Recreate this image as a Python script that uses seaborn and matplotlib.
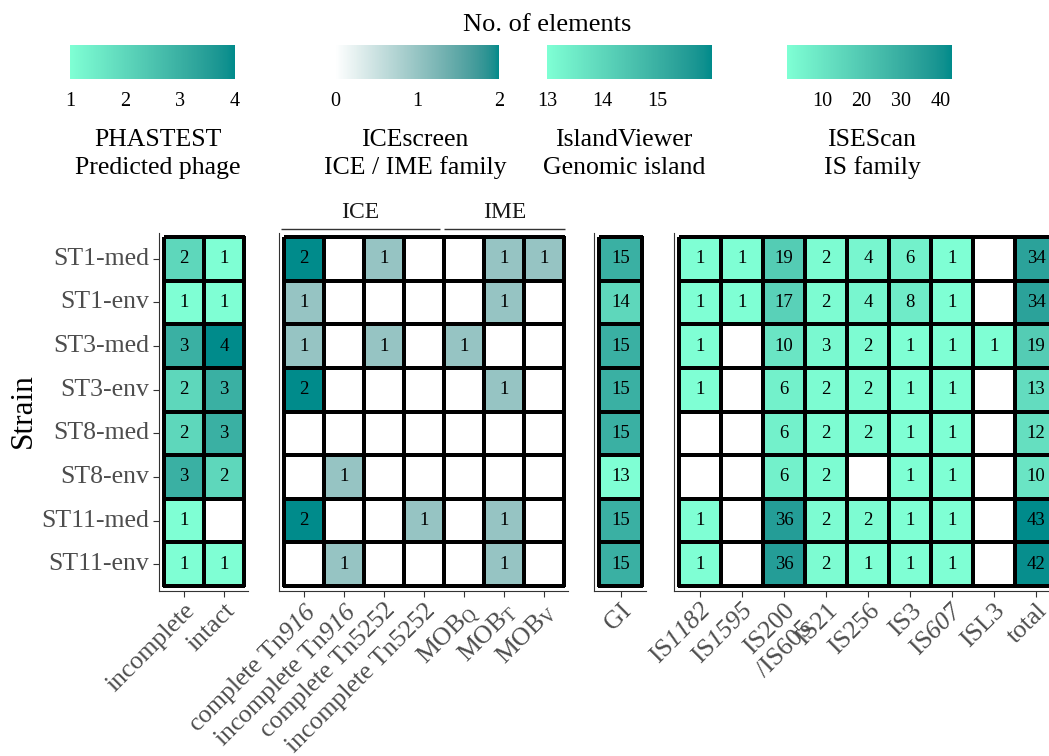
import numpy as np
import pandas as pd
import matplotlib
matplotlib.use("Agg")
import matplotlib.pyplot as plt
from matplotlib.colors import LinearSegmentedColormap, Normalize
from matplotlib.cm import ScalarMappable
import seaborn as sns

nan = np.nan

# ---------------------------------------------------------------- data
strains = ["ST1-med", "ST1-env", "ST3-med", "ST3-env",
           "ST8-med", "ST8-env", "ST11-med", "ST11-env"]

# PHASTEST predicted phages
phage_labels = ["incomplete", "intact"]
phage_incomplete = [2, 1, 3, 2, 2, 3, 1, 1]
phage_intact = [1, 1, 4, 3, 3, 2, nan, 1]

# ICEscreen ICE / IME families (\mathsf is mapped to the italic serif face)
ice_labels = ["complete Tn$\\mathsf{916}$", "incomplete Tn$\\mathsf{916}$",
              "complete Tn5252", "incomplete Tn5252",
              "MOB$_{\\mathrm{Q}}$", "MOB$_{\\mathrm{T}}$", "MOB$_{\\mathrm{V}}$"]
ice_groups = ["ICE", "IME"]
ice_group_sizes = [4, 3]
ice_complete_tn916 = [2, 1, 1, 2, nan, nan, 2, nan]
ice_incomplete_tn916 = [nan, nan, nan, nan, nan, 1, nan, 1]
ice_complete_tn5252 = [1, nan, 1, nan, nan, nan, nan, nan]
ice_incomplete_tn5252 = [nan, nan, nan, nan, nan, nan, 1, nan]
ime_mob_q = [nan, nan, 1, nan, nan, nan, nan, nan]
ime_mob_t = [1, 1, nan, 1, nan, nan, 1, 1]
ime_mob_v = [1, nan, nan, nan, nan, nan, nan, nan]

# IslandViewer genomic islands
gi_labels = ["GI"]
gi_counts = [15, 14, 15, 15, 15, 13, 15, 15]

# ISEScan IS families
is_labels = ["IS$\\mathsf{1182}$", "IS$\\mathsf{1595}$", "IS200\n/IS605", "IS21",
             "IS256", "IS3", "IS$\\mathsf{607}$", "ISL3", "total"]
is_1182 = [1, 1, 1, 1, nan, nan, 1, 1]
is_1595 = [1, 1, nan, nan, nan, nan, nan, nan]
is_200_605 = [19, 17, 10, 6, 6, 6, 36, 36]
is_21 = [2, 2, 3, 2, 2, 2, 2, 2]
is_256 = [4, 4, 2, 2, 2, nan, 2, 1]
is_3 = [6, 8, 1, 1, 1, 1, 1, 1]
is_607 = [1, 1, 1, 1, 1, 1, 1, 1]
is_l3 = [nan, nan, 1, nan, nan, nan, nan, nan]
is_total = [34, 34, 19, 13, 12, 10, 43, 42]

# colour-scale limits and legend breaks
phage_lim, phage_breaks = (1, 4), [1, 2, 3, 4]
ice_lim, ice_breaks = (0, 2), [0, 1, 2]
gi_lim, gi_breaks = (13, 16), [13, 14, 15]
is_lim, is_breaks = (1, 43), [10, 20, 30, 40]

# ---------------------------------------------------------------- colours
_M = np.array([[0.4124564, 0.3575761, 0.1804375],
               [0.2126729, 0.7151522, 0.0721750],
               [0.0193339, 0.1191920, 0.9503041]])
_WHITE = np.array([0.95047, 1.0, 1.08883])


def _to_lab(hexcol):
    c = np.array(matplotlib.colors.to_rgb(hexcol))
    lin = np.where(c <= 0.04045, c / 12.92, ((c + 0.055) / 1.055) ** 2.4)
    t = (_M @ lin) / _WHITE
    d = 6 / 29
    f = np.where(t > d ** 3, np.cbrt(t), t / (3 * d * d) + 4 / 29)
    return np.array([116 * f[1] - 16, 500 * (f[0] - f[1]), 200 * (f[1] - f[2])])


def _from_lab(lab):
    L, a, b = lab
    fy = (L + 16) / 116
    f = np.array([fy + a / 500, fy, fy - b / 200])
    d = 6 / 29
    t = np.where(f > d, f ** 3, 3 * d * d * (f - 4 / 29))
    lin = np.clip(np.linalg.solve(_M, t * _WHITE), 0, 1)
    c = np.where(lin <= 0.0031308, 12.92 * lin, 1.055 * lin ** (1 / 2.4) - 0.055)
    return np.clip(c, 0, 1)


def lab_gradient(low, high, n=256):
    a, b = _to_lab(low), _to_lab(high)
    cols = [_from_lab(a + (b - a) * s) for s in np.linspace(0, 1, n)]
    cmap = LinearSegmentedColormap.from_list(f"{low}-{high}", cols)
    cmap.set_bad("white")
    return cmap


cmap_aqua = lab_gradient("#7FFFD4", "#008B8B")
cmap_white = lab_gradient("#FFFFFF", "#008B8B")

# ---------------------------------------------------------------- style
sns.set_style("white")
plt.rcParams["font.family"] = ["Liberation Serif", "DejaVu Serif"]
plt.rcParams["mathtext.fontset"] = "custom"
plt.rcParams["mathtext.rm"] = "Liberation Serif"
plt.rcParams["mathtext.it"] = "Liberation Serif:italic"
plt.rcParams["mathtext.sf"] = "Liberation Serif:italic"
plt.rcParams["mathtext.bf"] = "Liberation Serif:bold"

W, H = 1049, 756
fig = plt.figure(figsize=(W / 100, H / 100), dpi=100, facecolor="white")


def px_axes(left, top, right, bottom):
    return fig.add_axes([left / W, 1 - bottom / H, (right - left) / W, (bottom - top) / H])


ROW_TOP, ROW_BOTTOM = 237, 586
PAD_L, PAD_R, PAD_T, PAD_B = 5, 4, 4, 5
TICK_CLR, LABEL_CLR = "#333333", "#4D4D4D"
LABEL_SIZE = 18.5


def panel(frame, labels, cmap, lim, left, cell_w, show_y=False):
    ncol, nrow = frame.shape[1], frame.shape[0]
    right = left + ncol * cell_w
    ax = px_axes(left - PAD_L, ROW_TOP - PAD_T, right + PAD_R, ROW_BOTTOM + PAD_B)
    sns.heatmap(frame, ax=ax, cmap=cmap, vmin=lim[0], vmax=lim[1], cbar=False,
                annot=True, fmt=".0f", linewidths=1.5, linecolor="black",
                annot_kws={"color": "black", "fontsize": 13.5})
    rh = (ROW_BOTTOM - ROW_TOP) / nrow
    ax.set_xlim(-PAD_L / cell_w, ncol + PAD_R / cell_w)
    ax.set_ylim(nrow + PAD_B / rh, -PAD_T / rh)
    for side in ("left", "bottom"):
        ax.spines[side].set_visible(True)
        ax.spines[side].set_color(TICK_CLR)
        ax.spines[side].set_linewidth(0.8)
    for side in ("top", "right"):
        ax.spines[side].set_visible(False)
    ax.set_xlabel("")
    ax.set_ylabel("")
    ax.set_xticks(np.arange(ncol) + 0.5)
    ax.set_xticklabels(labels, rotation=45, ha="right", va="top",
                       rotation_mode="anchor", fontsize=LABEL_SIZE,
                       color=LABEL_CLR, multialignment="right")
    ax.tick_params(axis="x", bottom=True, length=4, width=0.8, color=TICK_CLR, pad=2)
    if show_y:
        ax.set_yticks(np.arange(nrow) + 0.5)
        ax.set_yticklabels(strains, rotation=0, fontsize=LABEL_SIZE, color=LABEL_CLR)
        ax.tick_params(axis="y", left=True, length=4, width=0.8, color=TICK_CLR, pad=3)
    else:
        ax.set_yticks([])
    return ax


phage_df = pd.DataFrame({"incomplete": phage_incomplete, "intact": phage_intact},
                        index=strains, dtype=float)
ice_df = pd.DataFrame(np.array([ice_complete_tn916, ice_incomplete_tn916,
                                ice_complete_tn5252, ice_incomplete_tn5252,
                                ime_mob_q, ime_mob_t, ime_mob_v], dtype=float).T,
                      index=strains)
gi_df = pd.DataFrame({"GI": gi_counts}, index=strains, dtype=float)
is_df = pd.DataFrame(np.array([is_1182, is_1595, is_200_605, is_21, is_256,
                               is_3, is_607, is_l3, is_total], dtype=float).T,
                     index=strains)

ax_phage = panel(phage_df, phage_labels, cmap_aqua, phage_lim, 164, 40, show_y=True)
ax_ice = panel(ice_df, ice_labels, cmap_white, ice_lim, 284, 40)
ax_gi = panel(gi_df, gi_labels, cmap_aqua, gi_lim, 599, 43)
ax_is = panel(is_df, is_labels, cmap_aqua, is_lim, 679, 42)

# ICE / IME brackets above the ICEscreen panel
trans = ax_ice.get_xaxis_transform()
start = 0
for i, (name, size) in enumerate(zip(ice_groups, ice_group_sizes)):
    end = start + size
    x0 = start - 0.08 if i == 0 else start
    x1 = end - 0.1 if i < len(ice_groups) - 1 else end + 0.02
    ax_ice.plot([x0, x1], [1.011, 1.011], transform=trans, color="#333333",
                lw=1.0, clip_on=False, solid_capstyle="butt")
    ax_ice.text((x0 + x1) / 2, 1.058, name, transform=trans, ha="center",
                va="center", fontsize=17, color="#1a1a1a")
    start = end

fig.text(23 / W, 1 - 411 / H, "Strain", rotation=90, ha="center", va="center",
         fontsize=22.5, color="black")

# ---------------------------------------------------------------- legends
fig.text(547 / W, 1 - 25 / H, "No. of elements", ha="center", va="center",
         fontsize=19, color="black")

legends = [
    (cmap_aqua, phage_lim, phage_breaks, 70, 235, 158, "PHASTEST\nPredicted phage"),
    (cmap_white, ice_lim, ice_breaks, 335, 499, 415, "ICEscreen\nICE / IME family"),
    (cmap_aqua, gi_lim, gi_breaks, 547, 712, 624, "IslandViewer\nGenomic island"),
    (cmap_aqua, is_lim, is_breaks, 787, 952, 872, "ISEScan\nIS family"),
]
for cmap, lim, breaks, x0, x1, xc, title in legends:
    cax = px_axes(x0, 45, x1, 79)
    sm = ScalarMappable(norm=Normalize(*lim), cmap=cmap)
    cb = fig.colorbar(sm, cax=cax, orientation="horizontal")
    cb.outline.set_visible(False)
    cb.set_ticks(breaks)
    cb.set_ticklabels([str(b) for b in breaks])
    cax.tick_params(axis="x", direction="in", color="white", width=1.0, length=7,
                    top=True, bottom=True, labelsize=14.5, labelcolor="black", pad=9)
    fig.text(xc / W, 1 - 154 / H, title, ha="center", va="center",
             fontsize=18.5, color="black", linespacing=1.3)

fig.savefig("out.png", dpi=100, facecolor="white")
